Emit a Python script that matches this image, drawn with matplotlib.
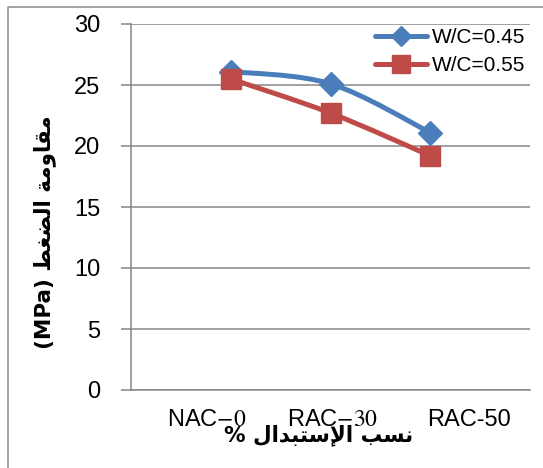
import numpy as np
import matplotlib.pyplot as plt
from matplotlib.path import Path
from matplotlib.patches import PathPatch
from matplotlib.lines import Line2D

# data
categories = ['NAC$-0$', 'RAC$-30$', 'RAC-50']
wc_045 = [26.1, 25.1, 21.1]
wc_055 = [25.5, 22.7, 19.2]
series_labels = ['W/C=0.45', 'W/C=0.55']
y_ticks = [0, 5, 10, 15, 20, 25, 30]

# Arabic labels, already shaped (presentation forms) and in visual order
ylabel_ar = '(MPa) \ufec2\ufed0\ufec0\ufedf\ufe8d \ufe94\ufee3\ufeed\ufe8e\ufed8\ufee3'
xlabel_ar = '% \ufedd\ufe8d\ufeaa\ufe92\ufe98\ufeb3\ufef9\ufe8d \ufe90\ufeb4\ufee7'

plt.rcParams['font.family'] = ['Liberation Sans', 'DejaVu Sans']
plt.rcParams['mathtext.fontset'] = 'stix'

W, H = 543, 468
grey = '#868686'
blue = '#4a7ebb'
red = '#be4b48'


def smooth_path(xs, ys):
    # Excel-like smoothed line: cubic Bezier through each point
    pts = np.column_stack([xs, ys]).astype(float)
    ext = np.vstack([pts[0], pts, pts[-1]])
    verts = [pts[0]]
    codes = [Path.MOVETO]
    for i in range(len(pts) - 1):
        p0, p1, p2, p3 = ext[i], ext[i + 1], ext[i + 2], ext[i + 3]
        verts += [p1 + (p2 - p0) / 6, p2 - (p3 - p1) / 6, p2]
        codes += [Path.CURVE4] * 3
    return Path(verts, codes)


fig = plt.figure(figsize=(W / 100, H / 100), dpi=100)
ax = fig.add_axes([131 / W, 1 - 390 / H, 399 / W, 366 / H])

x = np.arange(1, len(categories) + 1)
handles = []
for vals, color, marker, ms in [(wc_045, blue, 'D', 12), (wc_055, red, 's', 14.5)]:
    ax.add_patch(PathPatch(smooth_path(x, vals), fill=False, edgecolor=color,
                           lw=3.6, capstyle='round', joinstyle='round'))
    ax.plot(x, vals, ls='none', marker=marker, ms=ms, color=color)
    handles.append(Line2D([], [], color=color, lw=3.6, marker=marker,
                          ms=ms * 0.85, solid_capstyle='round'))

ax.set_xlim(0, 4)
ax.set_ylim(0, 30)
ax.set_yticks(y_ticks)
ax.set_xticks([0.76, 2.02, 3.39])
ax.set_xticklabels(categories)
ax.grid(axis='y', color=grey, lw=1.1)
ax.set_axisbelow(True)
for s in ['top', 'right']:
    ax.spines[s].set_visible(False)
for s in ['left', 'bottom']:
    ax.spines[s].set_color(grey)
    ax.spines[s].set_linewidth(1.1)
ax.tick_params(axis='y', length=7.2, width=1.1, color=grey, pad=15, labelsize=17)
ax.tick_params(axis='x', length=0, pad=14, labelsize=17)

ax.legend(handles, series_labels, loc='upper right',
          bbox_to_anchor=(525 / W, 1 - 28 / H), bbox_transform=fig.transFigure,
          frameon=False, fontsize=15, handlelength=2.5, handletextpad=0.2,
          borderpad=0, borderaxespad=0, labelspacing=0.45)

fig.text(45 / W, 1 - 232 / H, ylabel_ar, rotation=90, ha='center', va='center',
         fontsize=15.5, fontweight='bold', family=['DejaVu Sans'])
fig.text(319 / W, 1 - 435 / H, xlabel_ar, ha='center', va='center',
         fontsize=15.5, fontweight='bold', family=['DejaVu Sans'])

# outer chart border (only top and left edges fall inside the picture)
fig.add_artist(Line2D([8 / W, 8 / W, 1], [0, 1 - 6.5 / H, 1 - 6.5 / H],
                      transform=fig.transFigure, color='#8c8c8c', lw=1.1))

fig.savefig('out.png', dpi=100)
